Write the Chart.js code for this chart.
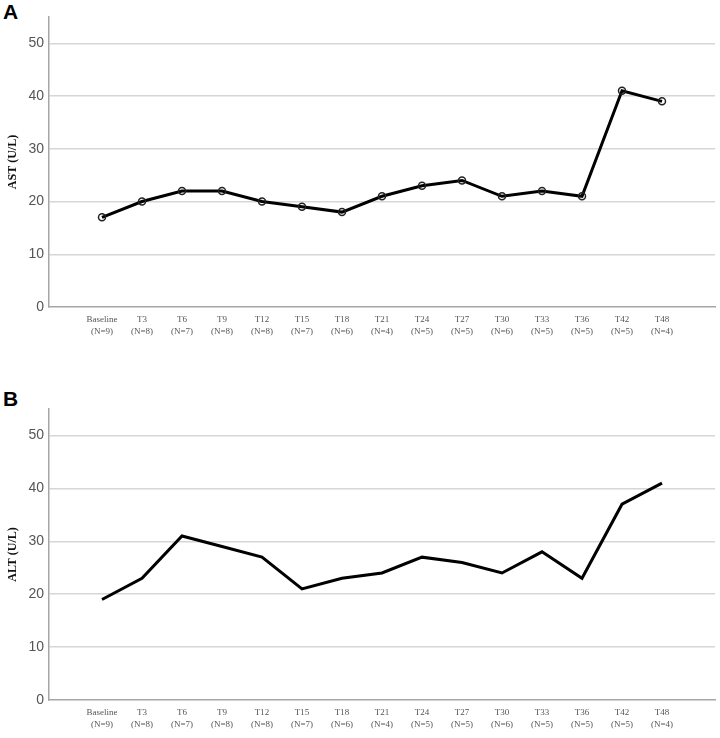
<!DOCTYPE html>
<html><head><meta charset="utf-8">
<script src="https://cdn.jsdelivr.net/npm/chart.js@4"></script>
<style>
html,body{margin:0;padding:0;background:#fff;}
body{width:720px;height:738px;position:relative;overflow:hidden;}
.panel{position:absolute;left:0;width:720px;}
.lbl{position:absolute;left:3px;font-family:"Liberation Sans",Arial,sans-serif;font-weight:bold;font-size:21px;color:#000;}
</style></head>
<body>
<div class="lbl" style="top:0px;">A</div>
<div class="lbl" style="top:387px;">B</div>
<div class="panel" style="top:0;height:342px;"><canvas id="cA"></canvas></div>
<div class="panel" style="top:370px;height:366px;"><canvas id="cB"></canvas></div>
<script>
const categories = ["Baseline","T3","T6","T9","T12","T15","T18","T21","T24","T27","T30","T33","T36","T42","T48"];
const sampleSizes = ["(N=9)","(N=8)","(N=7)","(N=8)","(N=8)","(N=7)","(N=6)","(N=4)","(N=5)","(N=5)","(N=6)","(N=5)","(N=5)","(N=5)","(N=4)"];
const astValues = [17,20,22,22,20,19,18,21,23,24,21,22,21,41,39];
const altValues = [19,23,31,29,27,21,23,24,27,26,24,28,23,37,41];
const yTicks = [0,10,20,30,40,50];

function makeChart(id, values, title, showPoints, padTop, xHeight){
  const ctx = document.getElementById(id);
  return new Chart(ctx, {
    type: 'line',
    data: {
      datasets: [{
        data: values.map((v,i)=>({x:i,y:v})),
        borderColor: '#000',
        borderWidth: 3,
        tension: 0,
        pointRadius: showPoints ? 3.5 : 0,
        pointBorderWidth: 1.5,
        pointBorderColor: '#222',
        pointBackgroundColor: 'rgba(255,255,255,0)',
        pointHoverRadius: 0
      }]
    },
    options: {
      responsive: true,
      maintainAspectRatio: false,
      animation: false,
      events: [],
      layout: { padding: { left: 0, right: 5, top: padTop, bottom: 0 } },
      plugins: { legend: { display: false }, tooltip: { enabled: false } },
      scales: {
        x: {
          type: 'linear',
          min: -1.325,
          max: 15.325,
          afterBuildTicks: (s) => { s.ticks = categories.map((_,i)=>({value:i})); },
          afterFit: (s) => { s.height = xHeight; },
          grid: { display: false, drawTicks: false },
          border: { display: true, color: '#a6a6a6', width: 1.5 },
          ticks: {
            autoSkip: false, maxRotation: 0, padding: 7,
            color: '#555',
            font: { family: '"Liberation Serif","Times New Roman",serif', size: 9, lineHeight: 1.3 },
            callback: (v) => [categories[v], sampleSizes[v]]
          }
        },
        y: {
          min: 0, max: 55,
          afterBuildTicks: (s) => { s.ticks = yTicks.map(v=>({value:v})); },
          afterFit: (s) => { s.width = 49; },
          grid: {
            drawTicks: false,
            color: (c) => c.tick && c.tick.value === 0 ? 'rgba(0,0,0,0)' : '#d6d6d6',
            lineWidth: 1.5
          },
          border: { display: true, color: '#a6a6a6', width: 1.5 },
          ticks: {
            padding: 5, color: '#555',
            font: { family: '"Liberation Sans Narrow","Liberation Sans",Arial,sans-serif', size: 14 }
          },
          title: {
            display: true, text: title, color: '#111',
            padding: { top: 6, bottom: 0 },
            font: { family: '"Liberation Serif","Times New Roman",serif', size: 12, weight: 'bold' }
          }
        }
      }
    }
  });
}
makeChart('cA', astValues, 'AST (U/L)', true, 17, 35);
makeChart('cB', altValues, 'ALT (U/L)', false, 39, 36);
</script>
</body></html>
